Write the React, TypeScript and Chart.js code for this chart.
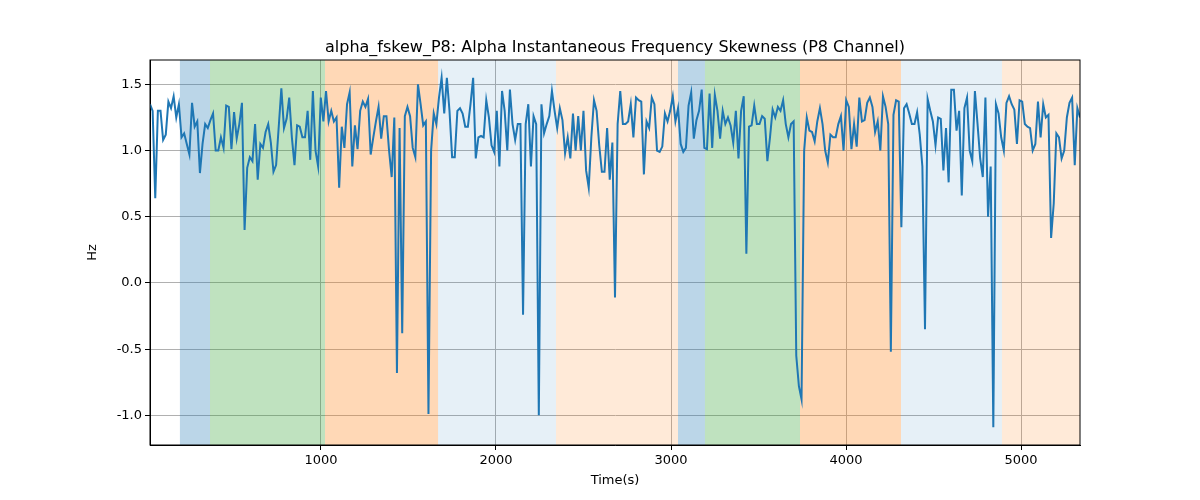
import React, { useEffect, useRef } from "react";
import { Chart, registerables } from "chart.js";
Chart.register(...registerables);

const X_START = 23;
const X_END = 5337;
const Y_VALUES: number[] = [
1.35,1.3,0.64,1.3,1.3,1.08,1.12,1.37,1.32,1.41,1.25,1.35,1.1,1.13,1.05,0.97,1.36,1.18,1.22,0.83,1.05,1.2,1.17,1.23,1.28,1.0,1.0,1.1,1.02,1.34,1.33,1.01,1.29,1.09,1.2,1.36,0.4,0.87,0.95,0.92,1.2,0.78,1.05,1.02,1.14,1.2,1.06,0.84,0.89,1.18,1.47,1.17,1.24,1.4,1.1,0.89,1.19,1.18,1.1,1.1,1.3,0.93,1.45,1.0,0.88,1.4,1.22,1.45,1.22,1.3,1.22,1.25,0.72,1.18,1.02,1.35,1.44,0.88,1.19,1.01,1.3,1.37,1.33,1.39,0.97,1.1,1.22,1.33,1.09,1.26,1.26,1.0,0.8,1.25,-0.68,1.17,-0.38,1.26,1.33,1.26,1.02,0.95,1.5,1.35,1.19,1.22,-0.99,1.0,1.28,1.2,1.4,1.55,1.28,1.55,1.3,0.95,0.95,1.3,1.32,1.28,1.18,1.18,
1.35,1.55,0.94,1.1,1.11,1.1,1.38,1.25,1.04,0.99,1.3,0.88,1.45,1.3,1.0,1.46,1.2,1.08,1.2,1.2,-0.24,1.2,1.35,0.88,1.26,1.2,-1.0,1.35,1.13,1.2,1.26,1.45,1.3,1.17,1.32,1.23,0.98,1.1,0.94,1.28,1.0,1.26,1.0,1.3,0.85,0.72,1.1,1.38,1.3,1.04,0.84,0.84,1.17,0.78,1.06,-0.11,1.2,1.45,1.2,1.2,1.22,1.35,1.1,1.4,1.38,1.37,0.82,1.22,1.17,1.4,1.35,1.0,0.99,1.03,1.28,1.22,1.3,1.41,1.22,1.32,1.05,0.99,1.02,1.34,1.44,1.09,1.23,1.3,1.46,1.02,1.01,1.43,1.02,1.42,1.3,1.09,1.3,1.2,1.25,1.19,1.06,1.3,0.94,1.3,1.41,0.22,1.18,1.19,1.34,1.2,1.2,1.26,1.24,0.92,1.1,1.31,1.25,1.33,
1.3,1.38,1.2,1.1,1.2,1.22,-0.55,-0.78,-0.88,1.0,1.25,1.15,1.14,1.07,1.22,1.32,1.2,1.0,0.91,1.12,1.1,1.1,1.2,1.26,1.0,1.38,1.33,1.01,1.2,1.03,1.4,1.22,1.23,1.36,1.4,1.33,1.14,1.22,1.0,1.41,1.33,1.2,-0.52,1.27,1.38,1.37,0.42,1.32,1.35,1.28,1.2,1.2,1.29,1.12,0.88,-0.35,1.39,1.3,1.22,1.04,1.25,1.24,0.85,1.17,0.76,1.46,1.46,1.15,1.3,0.66,1.32,1.4,1.0,0.92,1.45,1.2,0.94,0.8,1.4,0.5,0.88,-1.09,1.35,1.28,1.1,1.0,1.36,1.41,1.35,1.31,1.05,1.38,1.37,1.2,1.18,1.17,1.0,1.05,1.37,1.1,1.35,1.25,1.27,0.34,0.6,1.13,1.1,0.94,1.0,1.25,1.36,1.4,0.89,1.32,1.25
];
const BAND_STARTS = [194, 366, 1023, 1669, 2343, 3040, 3194, 3737, 4314, 4891];
const BAND_ENDS = [366, 1023, 1669, 2343, 3040, 3194, 3737, 4314, 4891, 5337];
const BAND_COLORS = [
  "rgba(31,119,180,0.3)", "rgba(44,160,44,0.3)", "rgba(255,127,14,0.3)", "rgba(31,119,180,0.11)", "rgba(255,127,14,0.16)",
  "rgba(31,119,180,0.3)", "rgba(44,160,44,0.3)", "rgba(255,127,14,0.3)", "rgba(31,119,180,0.11)", "rgba(255,127,14,0.16)",
];
const X_TICKS = [1000, 2000, 3000, 4000, 5000];
const Y_TICKS = [-1.0, -0.5, 0.0, 0.5, 1.0, 1.5];
const TITLE = "alpha_fskew_P8: Alpha Instantaneous Frequency Skewness (P8 Channel)";
const X_TITLE = "Time(s)";
const Y_TITLE = "Hz";

export default function App() {
  const ref = useRef<HTMLCanvasElement>(null);
  useEffect(() => {
    const step = (X_END - X_START) / (Y_VALUES.length - 1);
    const data = Y_VALUES.map((y, i) => ({ x: X_START + i * step, y }));
    const font = "'DejaVu Sans', sans-serif";
    const bands = {
      id: "bands",
      beforeDatasetsDraw(chart: any) {
        const { ctx, chartArea: a, scales } = chart;
        ctx.save();
        BAND_STARTS.forEach((s, i) => {
          const x1 = scales.x.getPixelForValue(s);
          const x2 = scales.x.getPixelForValue(BAND_ENDS[i]);
          ctx.fillStyle = BAND_COLORS[i];
          ctx.fillRect(x1, a.top, x2 - x1, a.bottom - a.top);
        });
        ctx.restore();
      },
      afterDraw(chart: any) {
        const { ctx, chartArea: a } = chart;
        ctx.save();
        ctx.strokeStyle = "#000";
        ctx.lineWidth = 1;
        ctx.strokeRect(a.left, a.top, a.right - a.left, a.bottom - a.top);
        ctx.fillStyle = "#000";
        ctx.font = `16px ${font}`;
        ctx.textAlign = "center";
        ctx.textBaseline = "alphabetic";
        ctx.fillText(TITLE, (a.left + a.right) / 2, 52);
        ctx.font = `13px ${font}`;
        ctx.textBaseline = "middle";
        ctx.fillText(X_TITLE, (a.left + a.right) / 2, 481);
        ctx.translate(93, (a.top + a.bottom) / 2);
        ctx.rotate(-Math.PI / 2);
        ctx.fillText(Y_TITLE, 0, 0);
        ctx.restore();
      },
    };
    const chart = new Chart(ref.current!, {
      type: "line",
      data: { datasets: [{ data, borderColor: "#1f77b4", borderWidth: 2, pointRadius: 0, tension: 0 }] },
      options: {
        animation: false,
        responsive: false,
        layout: { padding: { top: 60, right: 120, left: 0, bottom: 0 } },
        plugins: { legend: { display: false }, tooltip: { enabled: false } },
        scales: {
          x: {
            type: "linear", min: X_START, max: X_END,
            afterBuildTicks: (s: any) => { s.ticks = X_TICKS.map((v) => ({ value: v })); },
            afterFit: (s: any) => { s.height = 55; },
            ticks: { color: "#000", font: { family: font, size: 13 }, maxRotation: 0, callback: (v: any) => String(v) },
            grid: { color: "#b0b0b0", tickLength: 5, tickColor: "#000" },
            border: { color: "#000" },
          },
          y: {
            min: -1.224, max: 1.684,
            afterBuildTicks: (s: any) => { s.ticks = Y_TICKS.map((v) => ({ value: v })); },
            afterFit: (s: any) => { s.width = 150; },
            ticks: { color: "#000", font: { family: font, size: 13 }, callback: (v: any) => Number(v).toFixed(1) },
            grid: { color: "#b0b0b0", tickLength: 5, tickColor: "#000" },
            border: { color: "#000" },
          },
        },
      },
      plugins: [bands],
    } as any);
    return () => chart.destroy();
  }, []);
  return (
    <div style={{ position: "fixed", left: 0, top: 0, width: 1200, height: 500, background: "#fff" }}>
      <canvas ref={ref} width={1200} height={500} style={{ width: 1200, height: 500 }} />
    </div>
  );
}
